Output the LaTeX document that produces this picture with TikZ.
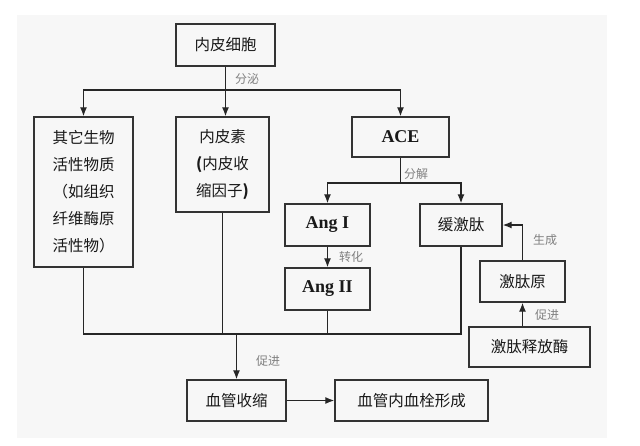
\documentclass[tikz,border=0pt]{standalone}
\usepackage{fontspec}
\setmainfont{Liberation Serif}
\newfontfamily\cjk{Noto Sans CJK SC}
\usetikzlibrary{arrows.meta}
\begin{document}
\begin{tikzpicture}[x=1pt,y=-1pt,
  box/.style={draw=black!80, line width=1.4pt, inner sep=0pt, font=\cjk\fontsize{15.5}{27}\selectfont, text=black!90, align=center},
  latin/.style={font=\bfseries\fontsize{18}{20}\selectfont},
  lbl/.style={font=\cjk\fontsize{12}{14}\selectfont, text=black!50, inner sep=1pt},
  conn/.style={draw=black!85, line width=1.3pt},
  arr/.style={conn, -{Latex[length=9pt,width=7pt]}}]
\useasboundingbox (0,0) rectangle (640,445);
\fill[black!3] (17,15) rectangle (607,438);
% boxes
\node[box, minimum width=99pt, minimum height=42pt] (endo) at (225.5,45) {内皮细胞};
\node[box, minimum width=99pt, minimum height=150pt] (other) at (83.5,192) {其它生物\\活性物质\\（如组织\\纤维酶原\\活性物）};
\node[box, minimum width=93pt, minimum height=95pt] (et) at (222.5,164.5) {内皮素\\\textbf{(}内皮收\\缩因子\textbf{)}};
\node[box, latin, minimum width=97pt, minimum height=40pt] (ace) at (400.5,137) {ACE};
\node[box, latin, minimum width=85pt, minimum height=42pt] (ang1) at (327.5,225) {Ang I};
\node[box, minimum width=82pt, minimum height=42pt] (bk) at (461,225) {缓激肽};
\node[box, latin, minimum width=85pt, minimum height=42pt] (ang2) at (327.5,289) {Ang II};
\node[box, minimum width=85pt, minimum height=41pt] (kg) at (522.5,281.5) {激肽原};
\node[box, minimum width=121pt, minimum height=40pt] (kk) at (529.5,347) {激肽释放酶};
\node[box, minimum width=99pt, minimum height=41pt] (vc) at (236.5,400.5) {血管收缩};
\node[box, minimum width=153pt, minimum height=41pt] (th) at (411.5,400.5) {血管内血栓形成};
% connectors
\coordinate (split) at (225.5,90);
\draw[arr] (endo.south) -- (endo.south |- et.north);
\draw[arr] (split) -| (other.north);
\draw[arr] (split) -| (ace.north);
\node[lbl] (l1) at (247,79) {分泌};
\coordinate (dec) at (400.5,183);
\draw[conn] (ace.south) -- (dec);
\draw[arr] (dec) -| (ang1.north);
\draw[arr] (dec) -| (bk.north);
\node[lbl] (l2) at (416,174) {分解};
\draw[arr] (ang1.south) -- (ang2.north);
\node[lbl] (l3) at (351,257) {转化};
\draw[arr] (kg.north) |- (bk.east);
\node[lbl] (l4) at (545,240) {生成};
\draw[arr] (kg.south |- kk.north) -- (kg.south);
\node[lbl] (l5) at (547,315) {促进};
\coordinate (bus) at (236.5,334);
\draw[conn] (other.south) -- (other.south |- bus) -- (bk.south |- bus) -- (bk.south);
\draw[conn] (et.south) -- (et.south |- bus);
\draw[conn] (ang2.south) -- (ang2.south |- bus);
\draw[arr] (bus) -- (vc.north);
\node[lbl] (l6) at (268,361) {促进};
\draw[arr] (vc.east) -- (th.west);
\end{tikzpicture}
\end{document}
